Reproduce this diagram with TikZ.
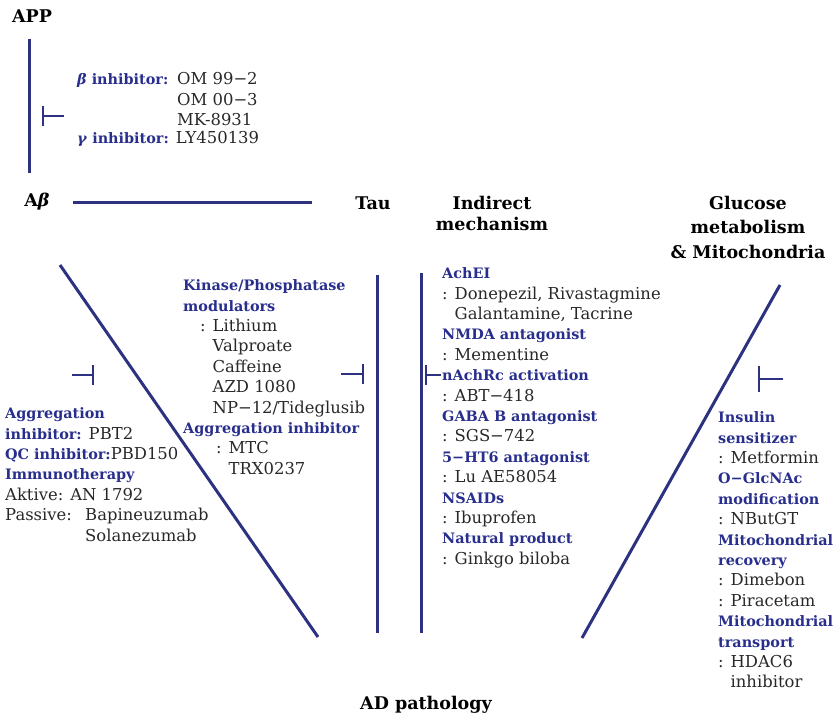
\documentclass[tikz,border=0pt]{standalone}
\usepackage{fontspec}
\setmainfont{DejaVu Serif}
\usetikzlibrary{arrows.meta}
\definecolor{navy}{RGB}{44,50,128}
\definecolor{labblue}{RGB}{40,46,140}
\definecolor{txt}{RGB}{40,40,40}
\newcommand{\lb}[1]{{\fontsize{14.4}{20.4}\selectfont\bfseries\color{labblue}#1}}
\newcommand{\fs}{\rule{0pt}{12.5pt}}
\newcommand{\ci}{\phantom{: }}
\begin{document}
\begin{tikzpicture}[x=1pt,y=-1pt,
  conn/.style={draw=navy,line width=3pt},
  inhib/.style={draw=navy,line width=2.4pt,-{Bar[width=#1]}},
  inhib/.default=20pt,
  head/.style={font=\fontsize{17.5}{21}\selectfont\bfseries,text=black,inner sep=0pt,align=center},
  block/.style={font=\fontsize{16.4}{20.4}\selectfont,text=txt,inner sep=0pt,align=left,anchor=north west},
]
\useasboundingbox (0,0) rectangle (833,717);

% headings
\node[head] (app) at (32,16) {APP};
\node[head] (abeta) at (37,202) {A\textit{β}};
\node[head] (tau) at (373,203) {Tau};
\node[head] (ind) at (492,213) {Indirect\\mechanism};
\node[head,font=\fontsize{17.5}{24.5}\selectfont\bfseries] (glu) at (748,227) {Glucose\\metabolism\\\& Mitochondria};
\node[head] (ad) at (426,705) {AD pathology};

% APP inhibitors
\node[block] (bi) at (77,72) {\fs\lb{\textit{β} inhibitor:}};
\node[block] (bv) at (177,72) {\fs OM 99−2\\OM 00−3\\MK-8931};
\node[block] (gi) at (77,131) {\fs\lb{\textit{γ} inhibitor:} LY450139};

% Abeta block
\node[block] (agg) at (5,406) {\fs\lb{Aggregation}\\
\lb{inhibitor:} PBT2\\
\lb{QC inhibitor:}PBD150\\
\lb{Immunotherapy}\\
Aktive: AN 1792\\
\makebox[80pt][l]{Passive:}Bapineuzumab\\
\hspace*{80pt}Solanezumab};

% Tau block
\node[block] (kin) at (183,278) {\fs\lb{Kinase/Phosphatase}\\
\lb{modulators}\\
\hspace*{17pt}: Lithium\\
\hspace*{17pt}\ci Valproate\\
\hspace*{17pt}\ci Caffeine\\
\hspace*{17pt}\ci AZD 1080\\
\hspace*{17pt}\ci NP−12/Tideglusib\\
\lb{Aggregation inhibitor}\\
\hspace*{33pt}: MTC\\
\hspace*{33pt}\ci TRX0237};

% Indirect block
\node[block] (ach) at (442,266) {\fs\lb{AchEI}\\
: Donepezil, Rivastagmine\\
\ci Galantamine, Tacrine\\
\lb{NMDA antagonist}\\
: Mementine\\
\lb{nAchRc activation}\\
: ABT−418\\
\lb{GABA B antagonist}\\
: SGS−742\\
\lb{5−HT6 antagonist}\\
: Lu AE58054\\
\lb{NSAIDs}\\
: Ibuprofen\\
\lb{Natural product}\\
: Ginkgo biloba};

% Glucose block
\node[block] (ins) at (718,410) {\fs\lb{Insulin}\\
\lb{sensitizer}\\
: Metformin\\
\lb{O−GlcNAc}\\
\lb{modification}\\
: NButGT\\
\lb{Mitochondrial}\\
\lb{recovery}\\
: Dimebon\\
: Piracetam\\
\lb{Mitochondrial}\\
\lb{transport}\\
: HDAC6\\
\ci inhibitor};

% connector end points
\coordinate (appT) at (29,39);   \coordinate (appB) at (29,173);
\coordinate (hL) at (73,202);    \coordinate (hR) at (312,202);
\coordinate (dL1) at (60,265);   \coordinate (dL2) at (318,637);
\coordinate (vT1) at (377,275);  \coordinate (vT2) at (377,633);
\coordinate (vI1) at (421,273);  \coordinate (vI2) at (421,633);
\coordinate (dR1) at (780,285);  \coordinate (dR2) at (582,638);

\draw[conn] (appT) -- (appB);
\draw[conn] (hL) -- (hR);
\draw[conn] (dL1) -- (dL2);
\draw[conn] (vT1) -- (vT2);
\draw[conn] (vI1) -- (vI2);
\draw[conn] (dR1) -- (dR2);

% inhibition bars
\coordinate (iA1) at (64,116);  \coordinate (iA2) at (42,116);
\coordinate (iB1) at (72,375);  \coordinate (iB2) at (94,375);
\coordinate (iC1) at (341,374); \coordinate (iC2) at (364,374);
\coordinate (iD1) at (441,375); \coordinate (iD2) at (425,375);
\coordinate (iE1) at (783,379); \coordinate (iE2) at (758,379);

\draw[inhib] (iA1) -- (iA2);
\draw[inhib] (iB1) -- (iB2);
\draw[inhib] (iC1) -- (iC2);
\draw[inhib] (iD1) -- (iD2);
\draw[inhib=26pt] (iE1) -- (iE2);
\end{tikzpicture}
\end{document}
